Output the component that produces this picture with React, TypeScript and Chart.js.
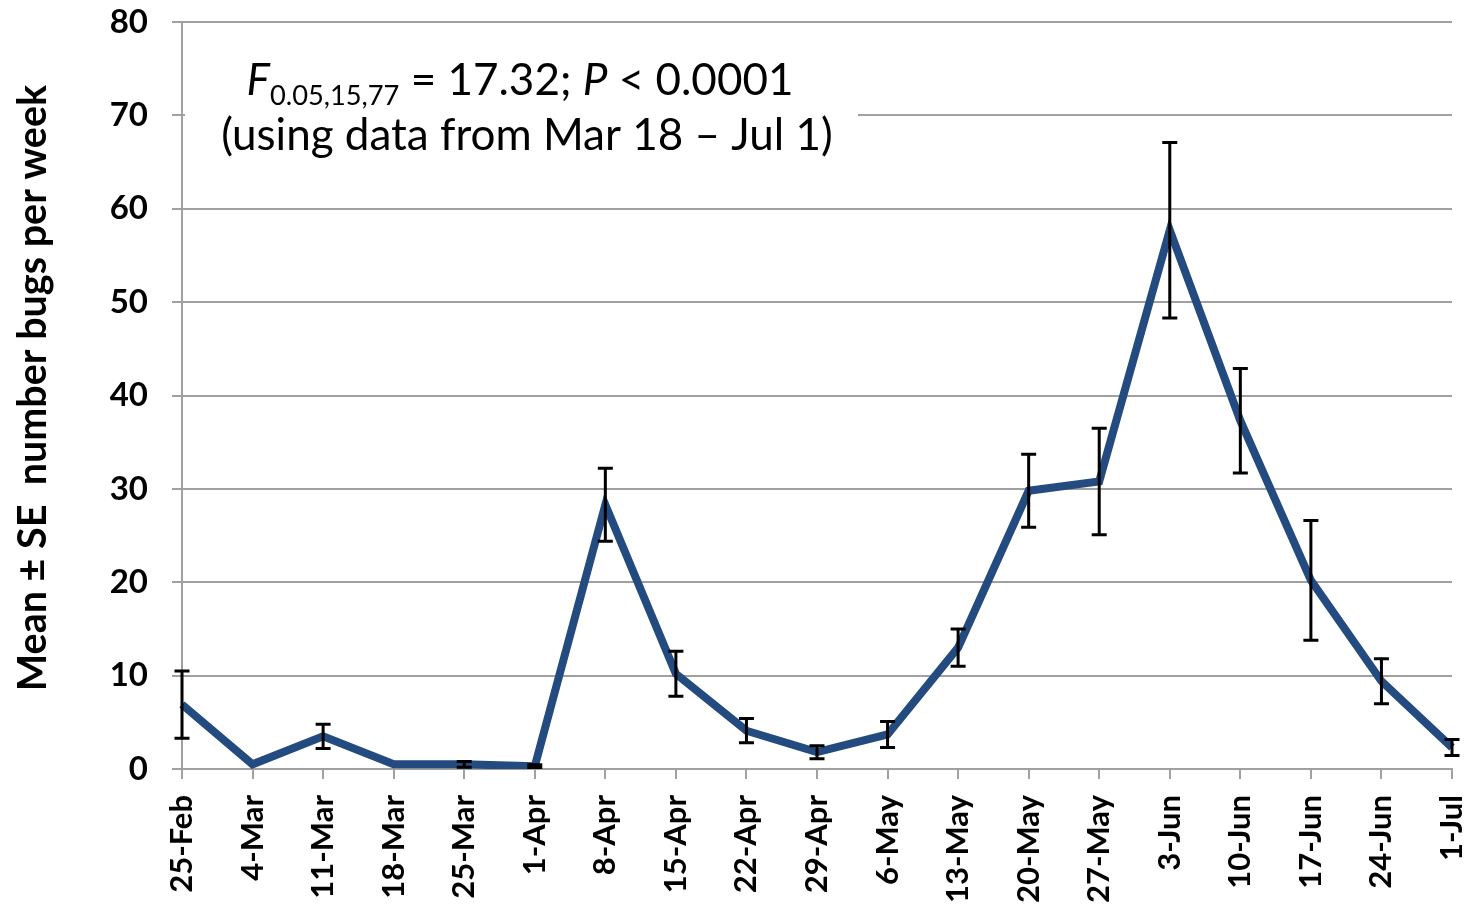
import React, { useEffect, useRef } from "react";
import { Chart, registerables } from "chart.js";

Chart.register(...registerables);

const categories = [
  "25-Feb", "4-Mar", "11-Mar", "18-Mar", "25-Mar", "1-Apr", "8-Apr", "15-Apr", "22-Apr", "29-Apr",
  "6-May", "13-May", "20-May", "27-May", "3-Jun", "10-Jun", "17-Jun", "24-Jun", "1-Jul",
];
const means = [6.9, 0.5, 3.5, 0.5, 0.5, 0.3, 28.3, 10.2, 4.1, 1.8, 3.7, 13.0, 29.8, 30.8, 57.7, 37.3, 20.2, 9.4, 2.3];
const stdErrors = [3.6, 0, 1.3, 0, 0.3, 0.15, 3.9, 2.4, 1.3, 0.7, 1.4, 2.0, 3.9, 5.7, 9.4, 5.6, 6.4, 2.4, 0.85];

const yMin = 0;
const yMax = 80;
const yStep = 10;

const yTitle = "Mean \u00b1 SE  number bugs per week";
const statLine2 = "(using data from Mar 18 \u2013 Jul 1)";

const GRID = "#a0a0a0";
const LINE = "#234b7f";
const FAM = "Lato, 'Open Sans', sans-serif";

function fitFont(ctx: CanvasRenderingContext2D, text: string, weight: string, family: string, target: number) {
  let size = 60;
  while (size > 10) {
    ctx.font = `${weight} ${size}px ${family}`;
    if (ctx.measureText(text).width <= target) break;
    size -= 0.5;
  }
  return size;
}

const errorBarPlugin = {
  id: "errorBars",
  afterDatasetsDraw(chart: any) {
    const { ctx, scales } = chart;
    const xs = scales.x;
    const ys = scales.y;
    ctx.save();
    ctx.strokeStyle = "#000";
    ctx.lineWidth = 3;
    ctx.lineCap = "butt";
    means.forEach((m, i) => {
      const e = stdErrors[i];
      if (!e) return;
      const x = xs.getPixelForValue(i);
      const yt = ys.getPixelForValue(m + e);
      const yb = ys.getPixelForValue(Math.max(yMin, m - e));
      ctx.beginPath();
      ctx.moveTo(x, yt);
      ctx.lineTo(x, yb);
      ctx.moveTo(x - 7.5, yt);
      ctx.lineTo(x + 7.5, yt);
      ctx.moveTo(x - 7.5, yb);
      ctx.lineTo(x + 7.5, yb);
      ctx.stroke();
    });
    ctx.restore();
  },
};

const annotationPlugin = {
  id: "annotation",
  beforeDatasetsDraw(chart: any) {
    const { ctx } = chart;
    ctx.save();
    ctx.fillStyle = "#fff";
    ctx.fillRect(185, 38, 673, 130);
    const size = fitFont(ctx, statLine2, "normal", FAM, 617);
    const subSize = size * 0.62;
    ctx.fillStyle = "#000";
    ctx.textBaseline = "alphabetic";
    ctx.textAlign = "left";
    const pieces = [
      { t: "F", font: `italic ${size}px ${FAM}`, dy: 0 },
      { t: "0.05,15,77", font: `normal ${subSize}px ${FAM}`, dy: 10 },
      { t: " = 17.32; ", font: `normal ${size}px ${FAM}`, dy: 0 },
      { t: "P", font: `italic ${size}px ${FAM}`, dy: 0 },
      { t: " < 0.0001", font: `normal ${size}px ${FAM}`, dy: 0 },
    ];
    let total = 0;
    pieces.forEach((p) => {
      ctx.font = p.font;
      total += ctx.measureText(p.t).width;
    });
    let x = 520 - total / 2;
    pieces.forEach((p) => {
      ctx.font = p.font;
      ctx.fillText(p.t, x, 95 + p.dy);
      x += ctx.measureText(p.t).width;
    });
    ctx.font = `normal ${size}px ${FAM}`;
    ctx.textAlign = "center";
    ctx.fillText(statLine2, 527, 150);
    ctx.restore();
  },
  afterDraw(chart: any) {
    const { ctx } = chart;
    ctx.save();
    const size = fitFont(ctx, yTitle, "bold", FAM, 607);
    ctx.font = `bold ${size}px ${FAM}`;
    ctx.fillStyle = "#000";
    ctx.translate(33, 388);
    ctx.rotate(-Math.PI / 2);
    ctx.textAlign = "center";
    ctx.textBaseline = "middle";
    ctx.fillText(yTitle, 0, 0);
    ctx.restore();
  },
};

export default function App() {
  const ref = useRef<HTMLCanvasElement | null>(null);
  useEffect(() => {
    document.body.style.margin = "0";
    const canvas = ref.current;
    if (!canvas) return;
    const chart = new Chart(canvas, {
      type: "line",
      data: {
        labels: categories,
        datasets: [
          {
            data: means,
            borderColor: LINE,
            backgroundColor: LINE,
            borderWidth: 8,
            pointRadius: 0,
            tension: 0,
            fill: false,
            borderJoinStyle: "miter",
          },
        ],
      },
      options: {
        animation: false,
        responsive: false,
        devicePixelRatio: 1,
        layout: { padding: { top: 22, right: 18, left: 0, bottom: 0 } },
        plugins: { legend: { display: false }, tooltip: { enabled: false } },
        scales: {
          x: {
            type: "category",
            offset: false,
            grid: { drawOnChartArea: false, drawTicks: true, tickLength: 10, color: GRID, lineWidth: 2 },
            border: { color: GRID, width: 2 },
            ticks: {
              autoSkip: false,
              maxRotation: 90,
              minRotation: 90,
              padding: 16,
              color: "#000",
              font: { family: FAM, weight: "bold", size: 31 },
            },
            afterFit(s: any) {
              s.height = 138;
              s.paddingLeft = 0;
              s.paddingRight = 0;
            },
          },
          y: {
            min: yMin,
            max: yMax,
            grid: { color: GRID, lineWidth: 2, tickLength: 10 },
            border: { color: GRID, width: 2 },
            ticks: {
              stepSize: yStep,
              padding: 24,
              color: "#000",
              font: { family: FAM, weight: "bold", size: 33 },
            },
            afterFit(s: any) {
              s.width = 182;
              s.paddingTop = 0;
              s.paddingBottom = 0;
            },
          },
        },
      } as any,
      plugins: [errorBarPlugin, annotationPlugin],
    });
    return () => chart.destroy();
  }, []);
  return (
    <div style={{ position: "absolute", left: 0, top: 0, width: 1470, height: 907, background: "#fff" }}>
      <canvas ref={ref} width={1470} height={907} />
    </div>
  );
}
